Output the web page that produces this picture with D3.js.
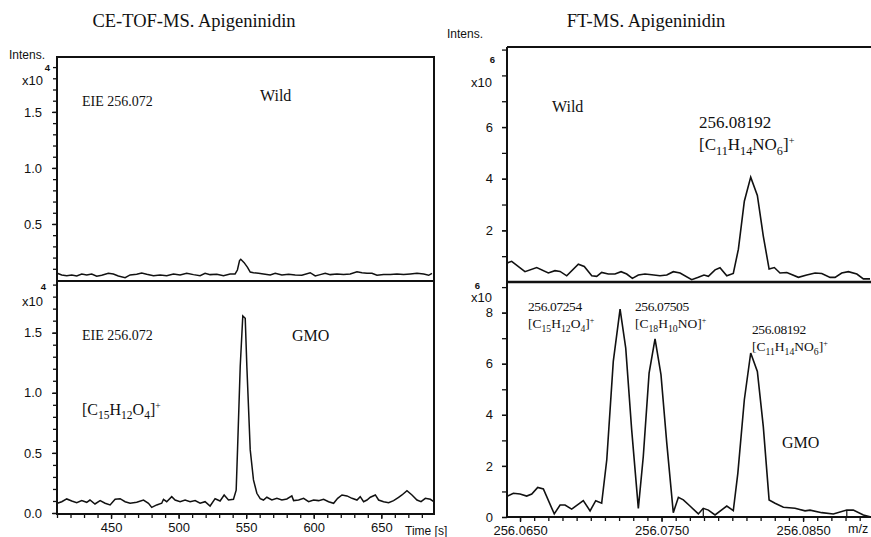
<!DOCTYPE html>
<html>
<head>
<meta charset="utf-8" />
<title>Apigeninidin</title>
<script src="https://d3js.org/d3.v7.min.js"></script>
<style>
  body { margin: 0; background: #fff; }
  .serif { font-family: "Liberation Serif", "Times New Roman", serif; fill: #111; }
  .sans { font-family: "Liberation Sans", Arial, sans-serif; fill: #111; }
</style>
</head>
<body>
<svg id="viz" width="871" height="537"></svg>
<script>
// CE-TOF-MS extracted ion electropherograms (intensity x10^4)
var wildTime = [410.2,413.5,417.2,420.9,424.6,428.3,432.0,435.7,439.4,443.1,448.0,451.7,455.4,460.4,464.1,469.0,472.7,476.4,481.4,486.3,491.2,496.2,501.1,506.0,511.0,515.9,519.6,523.3,528.3,533.2,538.1,541.8,543.5,545.1,546.0,548.5,551.0,553.0,555.4,559.1,562.8,567.8,571.5,576.4,581.4,586.3,591.2,597.4,601.1,604.8,608.5,612.2,617.2,622.1,627.0,632.0,635.7,639.4,643.1,646.8,651.7,656.7,661.6,666.5,671.5,676.4,681.4,685.1,687.5];
var wildIntens = [0.060,0.045,0.039,0.045,0.036,0.054,0.045,0.054,0.033,0.042,0.060,0.054,0.036,0.021,0.045,0.051,0.063,0.051,0.039,0.045,0.039,0.054,0.045,0.060,0.048,0.039,0.060,0.048,0.051,0.039,0.054,0.054,0.089,0.173,0.185,0.155,0.113,0.071,0.065,0.060,0.054,0.045,0.060,0.045,0.051,0.045,0.042,0.065,0.036,0.048,0.060,0.048,0.054,0.048,0.054,0.074,0.065,0.060,0.060,0.042,0.048,0.048,0.054,0.048,0.054,0.060,0.054,0.042,0.060];

var gmoTime = [410.2,413.5,417.2,420.9,424.6,428.3,432.0,434.4,438.1,441.9,445.6,449.3,453.0,456.7,460.4,464.1,469.0,474.0,477.7,480.1,483.8,487.5,488.8,491.2,494.9,497.4,501.1,504.8,508.5,512.2,515.9,519.6,523.3,527.0,530.7,533.7,536.9,540.6,542.6,543.6,545.6,547.5,549.3,550.5,553.0,555.4,557.9,560.4,562.8,565.3,569.0,572.7,576.4,580.1,583.8,585.1,588.8,592.5,596.2,599.9,603.6,607.3,611.0,614.7,617.7,620.9,624.6,628.3,632.0,634.4,636.9,639.4,641.9,645.6,648.0,651.7,655.4,659.1,662.8,665.3,669.0,672.7,676.4,679.4,682.6,686.3,688.8];
var gmoIntens = [0.081,0.094,0.117,0.100,0.086,0.103,0.089,0.108,0.075,0.103,0.081,0.067,0.114,0.119,0.094,0.081,0.089,0.108,0.081,0.047,0.067,0.081,0.114,0.094,0.136,0.108,0.094,0.108,0.094,0.103,0.081,0.094,0.058,0.119,0.100,0.150,0.108,0.114,0.19,0.525,1.22,1.64,1.62,1.22,0.525,0.275,0.164,0.12,0.108,0.131,0.108,0.122,0.108,0.117,0.142,0.103,0.108,0.122,0.094,0.108,0.103,0.114,0.094,0.081,0.122,0.150,0.142,0.122,0.108,0.136,0.094,0.108,0.131,0.150,0.108,0.094,0.086,0.103,0.131,0.150,0.186,0.150,0.108,0.094,0.122,0.114,0.094];

// FT-MS spectra (intensity x10^6)
var ftWildMz = [256.06406,256.06441,256.06535,256.06618,256.06700,256.06747,256.06783,256.06830,256.06912,256.06954,256.07007,256.07042,256.07077,256.07124,256.07171,256.07214,256.07254,256.07294,256.07336,256.07383,256.07431,256.07489,256.07537,256.07583,256.07631,256.07713,256.07760,256.07800,256.07831,256.07878,256.07913,256.07961,256.08007,256.08043,256.08085,256.08130,256.08177,256.08219,256.08260,256.08297,256.08337,256.08385,256.08467,256.08526,256.08585,256.08632,256.08691,256.08726,256.08773,256.08820,256.08880,256.08926,256.08973];
var ftWildIntens = [0.73,0.80,0.40,0.56,0.35,0.44,0.41,0.24,0.69,0.60,0.24,0.22,0.37,0.31,0.31,0.40,0.31,0.14,0.27,0.31,0.28,0.24,0.27,0.40,0.35,0.09,0.18,0.27,0.22,0.47,0.55,0.24,0.33,1.27,3.13,4.06,3.35,1.78,0.50,0.56,0.35,0.37,0.18,0.27,0.35,0.33,0.18,0.18,0.35,0.40,0.31,0.12,0.12];

var ftGmoMz = [256.06406,256.06453,256.06500,256.06547,256.06583,256.06625,256.06665,256.06742,256.06783,256.06818,256.06865,256.06947,256.06995,256.07035,256.07077,256.07113,256.07159,256.07207,256.07247,256.07289,256.07336,256.07371,256.07412,256.07454,256.07496,256.07537,256.07583,256.07619,256.07654,256.07701,256.07760,256.07795,256.07831,256.07878,256.07961,256.08007,256.08039,256.08085,256.08130,256.08177,256.08219,256.08260,256.08302,256.08361,256.08443,256.08514,256.08549,256.08632,256.08714,256.08809,256.08855,256.08926,256.08973];
var ftGmoIntens = [0.80,0.93,0.90,0.82,0.90,1.16,1.10,0.12,0.47,0.47,0.31,0.64,0.24,0.64,0.54,2.24,6.09,8.14,6.61,3.41,0.34,2.37,5.63,6.97,5.57,2.89,0.17,0.77,0.67,0.43,0.12,0.34,0.27,0.08,0.43,0.25,1.71,4.59,6.42,5.70,3.54,0.67,0.54,0.38,0.34,0.24,0.27,0.17,0.12,0.27,0.27,0.08,0.01];
var ftGmoMarkers = [256.07795, 256.08809];

var tofTimeTicks = [450, 500, 550, 600, 650];
var tofIntensTicks = [0.5, 1.0, 1.5];
var ftMzTicks = [256.065, 256.075, 256.085];
var ftWildTicks = [2, 4, 6];
var ftGmoTicks = [0, 2, 4, 6, 8];

var svg = d3.select("#viz");

// scales
var xTof = d3.scaleLinear().domain([410, 689]).range([57, 434]);
var yTofWild = d3.scaleLinear().domain([0, 1.99]).range([280, 57]);
var yTofGmo = d3.scaleLinear().domain([0, 1.93]).range([513, 281]);

var xFt = d3.scaleLinear().domain([256.06408, 256.0898]).range([507, 871]);
var yFtWild = d3.scaleLinear().domain([0, 9.1]).range([282, 47]);
var yFtGmo = d3.scaleLinear().domain([0, 9.2]).range([517, 282]);

function axisGroup(axis, transform) {
  var g = svg.append("g").attr("transform", transform).call(axis);
  g.select(".domain").remove();
  g.selectAll("line").attr("stroke", "#111").attr("stroke-width", 1.3);
  g.selectAll("text").attr("class", "sans").attr("fill", "#111")
    .style("font-size", "13px");
  return g;
}

// ---- left: CE-TOF-MS ----
axisGroup(d3.axisLeft(yTofWild).tickValues(d3.range(0.1, 1.95, 0.1)).tickSize(4).tickFormat(""), "translate(57,0)");
axisGroup(d3.axisLeft(yTofWild).tickValues(tofIntensTicks).tickSize(5).tickPadding(10).tickFormat(d3.format(".1f")), "translate(57,0)");
axisGroup(d3.axisLeft(yTofGmo).tickValues(d3.range(0, 1.95, 0.1)).tickSize(4).tickFormat(""), "translate(57,0)");
axisGroup(d3.axisLeft(yTofGmo).tickValues([0].concat(tofIntensTicks)).tickSize(5).tickPadding(10).tickFormat(d3.format(".1f")), "translate(57,0)");
axisGroup(d3.axisBottom(xTof).tickValues(d3.range(410, 690, 10)).tickSize(4).tickFormat(""), "translate(0,514)");
axisGroup(d3.axisBottom(xTof).tickValues(tofTimeTicks).tickSize(5).tickPadding(4), "translate(0,514)");

var line = d3.line().curve(d3.curveLinear);

svg.append("path")
  .attr("d", line.x(function(d, i) { return xTof(wildTime[i]); }).y(function(d) { return yTofWild(d); })(wildIntens))
  .attr("fill", "none").attr("stroke", "#111").attr("stroke-width", 1.5);

svg.append("path")
  .attr("d", line.x(function(d, i) { return xTof(gmoTime[i]); }).y(function(d) { return yTofGmo(d); })(gmoIntens))
  .attr("fill", "none").attr("stroke", "#111").attr("stroke-width", 1.5);

svg.append("rect").attr("x", 57).attr("y", 57).attr("width", 377).attr("height", 457)
  .attr("fill", "none").attr("stroke", "#111").attr("stroke-width", 2);
svg.append("line").attr("x1", 57).attr("x2", 434).attr("y1", 281).attr("y2", 281)
  .attr("stroke", "#111").attr("stroke-width", 2.2);

// ---- right: FT-MS ----
axisGroup(d3.axisLeft(yFtWild).tickValues(d3.range(1, 10, 1)).tickSize(5).tickFormat(""), "translate(507,0)");
axisGroup(d3.axisLeft(yFtWild).tickValues(ftWildTicks).tickSize(5).tickPadding(9), "translate(507,0)");
axisGroup(d3.axisLeft(yFtGmo).tickValues(d3.range(0, 10, 1)).tickSize(5).tickFormat(""), "translate(507,0)");
axisGroup(d3.axisLeft(yFtGmo).tickValues(ftGmoTicks).tickSize(5).tickPadding(9), "translate(507,0)");
axisGroup(d3.axisBottom(xFt).tickValues(d3.range(256.065, 256.0895, 0.001)).tickSize(4).tickFormat(""), "translate(0,517)");
axisGroup(d3.axisBottom(xFt).tickValues(ftMzTicks).tickSize(5).tickPadding(4).tickFormat(d3.format(".4f")), "translate(0,517)");

svg.append("clipPath").attr("id", "ftclip").append("rect")
  .attr("x", 507).attr("y", 47).attr("width", 364).attr("height", 470);

svg.append("path")
  .attr("clip-path", "url(#ftclip)")
  .attr("d", line.x(function(d, i) { return xFt(ftWildMz[i]); }).y(function(d) { return yFtWild(d); })(ftWildIntens))
  .attr("fill", "none").attr("stroke", "#111").attr("stroke-width", 1.6);

svg.append("path")
  .attr("clip-path", "url(#ftclip)")
  .attr("d", line.x(function(d, i) { return xFt(ftGmoMz[i]); }).y(function(d) { return yFtGmo(d); })(ftGmoIntens))
  .attr("fill", "none").attr("stroke", "#111").attr("stroke-width", 1.6);

svg.selectAll(".marker").data(ftGmoMarkers).enter().append("line")
  .attr("class", "marker")
  .attr("x1", function(d) { return xFt(d); }).attr("x2", function(d) { return xFt(d); })
  .attr("y1", function(d) { return yFtGmo(ftGmoIntens[ftGmoMz.indexOf(d)]); })
  .attr("y2", yFtGmo(0))
  .attr("stroke", "#111").attr("stroke-width", 1.2);

svg.append("path").attr("d", "M507,47H873M507,47V517H873")
  .attr("fill", "none").attr("stroke", "#111").attr("stroke-width", 2);
svg.append("line").attr("x1", 507).attr("x2", 871).attr("y1", 282).attr("y2", 282)
  .attr("stroke", "#111").attr("stroke-width", 2.5);

// ---- text ----
function txt(x, y, s, cls, size, anchor) {
  return svg.append("text").attr("x", x).attr("y", y).attr("class", cls)
    .attr("text-anchor", anchor || "start").style("font-size", size + "px").text(s);
}

function formula(x, y, parts, size) {
  var t = svg.append("text").attr("x", x).attr("y", y).attr("class", "serif")
    .style("font-size", size + "px");
  parts.forEach(function(p) {
    var s = t.append("tspan").text(p[0]);
    if (p[1] === "sub") s.attr("baseline-shift", -size * 0.28).style("font-size", (size * 0.72) + "px");
    if (p[1] === "sup") s.attr("baseline-shift", size * 0.38).style("font-size", (size * 0.6) + "px");
  });
  return t;
}

txt(194, 27, "CE-TOF-MS. Apigeninidin", "serif", 18.5, "middle");
txt(646, 27, "FT-MS. Apigeninidin", "serif", 18.5, "middle");

txt(9, 59, "Intens.", "sans", 12);
txt(50, 71, "4", "sans", 9.5, "end").style("font-weight", "bold");
txt(43, 85, "x10", "sans", 13, "end");
txt(46, 290, "4", "sans", 9.5, "end").style("font-weight", "bold");
txt(43, 306, "x10", "sans", 13, "end");

txt(82, 106, "EIE 256.072", "serif", 14);
txt(260, 101, "Wild", "serif", 16);
txt(82, 340, "EIE 256.072", "serif", 14);
txt(292, 341, "GMO", "serif", 16);
formula(82, 415, [["[C"], ["15", "sub"], ["H"], ["12", "sub"], ["O"], ["4", "sub"], ["]"], ["+", "sup"]], 16);
txt(405, 535, "Time [s]", "sans", 12);

txt(447, 38, "Intens.", "sans", 12);
txt(495, 63, "6", "sans", 9.5, "end").style("font-weight", "bold");
txt(492, 87, "x10", "sans", 13, "end");
txt(480, 289, "6", "sans", 9.5, "end").style("font-weight", "bold");
txt(492, 302, "x10", "sans", 13, "end");

txt(552, 112, "Wild", "serif", 16);
txt(699, 128, "256.08192", "serif", 17);
formula(699, 150, [["[C"], ["11", "sub"], ["H"], ["14", "sub"], ["NO"], ["6", "sub"], ["]"], ["+", "sup"]], 17);

txt(528, 311, "256.07254", "serif", 13.5).style("letter-spacing", "-0.4px");
formula(528, 328, [["[C"], ["15", "sub"], ["H"], ["12", "sub"], ["O"], ["4", "sub"], ["]"], ["+", "sup"]], 13.5);
txt(635, 311, "256.07505", "serif", 13.5).style("letter-spacing", "-0.4px");
formula(635, 328, [["[C"], ["18", "sub"], ["H"], ["10", "sub"], ["NO]"], ["+", "sup"]], 13.5);
txt(752, 334, "256.08192", "serif", 13.5).style("letter-spacing", "-0.4px");
formula(752, 351, [["[C"], ["11", "sub"], ["H"], ["14", "sub"], ["NO"], ["6", "sub"], ["]"], ["+", "sup"]], 13.5);
txt(782, 448, "GMO", "serif", 16);
txt(848, 533, "m/z", "sans", 12.5);
</script>
</body>
</html>
